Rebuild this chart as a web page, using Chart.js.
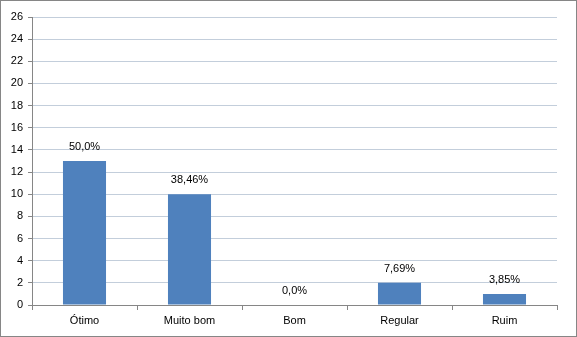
<!DOCTYPE html>
<html>
<head>
<meta charset="utf-8">
<script src="https://cdn.jsdelivr.net/npm/chart.js@4"></script>
<style>
  html, body { margin: 0; padding: 0; background: #fff; }
  #wrap { width: 577px; height: 337px; position: relative; }
</style>
</head>
<body>
<div id="wrap"><canvas id="myChart" width="577" height="337"></canvas></div>
<script>
const categories = ['Ótimo', 'Muito bom', 'Bom', 'Regular', 'Ruim'];
const counts = [13, 10, 0, 2, 1];
const percentLabels = ['50,0%', '38,46%', '0,0%', '7,69%', '3,85%'];

Chart.defaults.font.family = '"Liberation Sans", Arial, sans-serif';
Chart.defaults.font.size = 11;
Chart.defaults.color = '#000';

// labels above bars + outer frame
const barLabels = {
    id: 'barLabels',
    afterDatasetsDraw(chart) {
        const ctx = chart.ctx;
        const meta = chart.getDatasetMeta(0);
        ctx.save();
        ctx.font = '11px "Liberation Sans", Arial, sans-serif';
        ctx.fillStyle = '#000';
        ctx.textAlign = 'center';
        ctx.textBaseline = 'middle';
        meta.data.forEach((bar, i) => {
            ctx.fillText(percentLabels[i], bar.x, bar.y - 14);
        });
        ctx.restore();
    },
    afterDraw(chart) {
        const ctx = chart.ctx;
        ctx.save();
        ctx.strokeStyle = '#868686';
        ctx.lineWidth = 1;
        ctx.strokeRect(0.5, 0.5, chart.width - 1, chart.height - 1);
        ctx.restore();
    }
};

const chart = new Chart(document.getElementById('myChart'), {
    type: 'bar',
    data: {
        labels: categories,
        datasets: [{
            data: counts,
            backgroundColor: '#4F81BD',
            borderWidth: 0,
            barPercentage: 0.41,
            categoryPercentage: 1.0
        }]
    },
    options: {
        responsive: false,
        animation: false,
        layout: { padding: { top: 17, right: 20, left: 0, bottom: 0 } },
        plugins: {
            legend: { display: false },
            tooltip: { enabled: false }
        },
        scales: {
            x: {
                afterFit: (s) => { s.height = 32; },
                grid: {
                    offset: true,
                    drawOnChartArea: false,
                    tickLength: 5,
                    tickColor: '#868686'
                },
                border: { color: '#868686' },
                ticks: { padding: 4 }
            },
            y: {
                min: 0,
                max: 26,
                afterFit: (s) => { s.width = 32; },
                ticks: { stepSize: 2, padding: 5 },
                grid: {
                    color: '#C3CEDB',
                    tickLength: 4,
                    tickColor: '#868686'
                },
                border: { color: '#868686' }
            }
        }
    },
    plugins: [barLabels]
});
</script>
</body>
</html>
